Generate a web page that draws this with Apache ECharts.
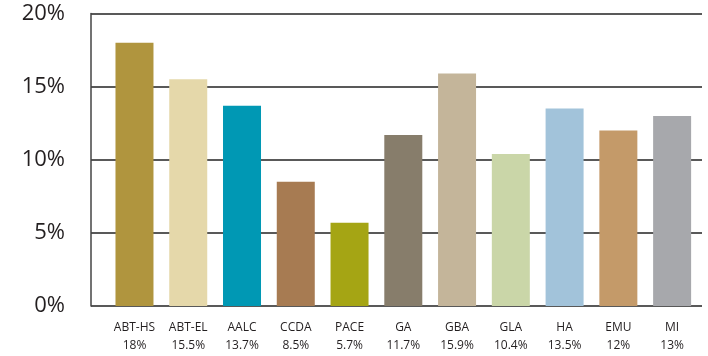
<!DOCTYPE html>
<html>
<head>
<meta charset="utf-8">
<script src="https://cdn.jsdelivr.net/npm/echarts@6/dist/echarts.min.js"></script>
<style>
  html, body { margin: 0; padding: 0; background: #fff; }
  #chart { width: 708px; height: 356px; }
</style>
</head>
<body>
<div id="chart"></div>
<script>
// Program names and their shares (percent)
const programs = ['ABT-HS', 'ABT-EL', 'AALC', 'CCDA', 'PACE', 'GA', 'GBA', 'GLA', 'HA', 'EMU', 'MI'];
const shares = [18, 15.5, 13.7, 8.5, 5.7, 11.7, 15.9, 10.4, 13.5, 12, 13];
const barColors = ['#B0953E', '#E5D8AA', '#0098B4', '#A77B52', '#A5A514', '#877D6B',
                   '#C4B59A', '#CAD6A8', '#A2C3DA', '#C49A69', '#A7A8AC'];
const yTicks = [0, 5, 10, 15, 20];

const font = '"Open Sans", "Noto Sans", sans-serif';
const chart = echarts.init(document.getElementById('chart'));

chart.setOption({
  animation: false,
  grid: [
    // frame grid: y axis, gridlines and baseline
    { left: 91, right: 6, top: 13.5, bottom: 50 },
    // bar grid, slightly inset from the y axis
    { left: 107.6, right: 9, top: 13.5, bottom: 50 }
  ],
  xAxis: [
    { gridIndex: 0, type: 'value', min: 0, max: 1, show: false },
    {
      gridIndex: 1,
      type: 'category',
      data: programs,
      axisLine: { show: false },
      axisTick: { show: false },
      axisLabel: {
        interval: 0,
        hideOverlap: false,
        margin: 13,
        color: '#231f20',
        fontFamily: font,
        fontSize: 12,
        lineHeight: 18,
        formatter: (name, i) => name + '\n' + shares[i] + '%'
      }
    }
  ],
  yAxis: [
    {
      gridIndex: 0,
      type: 'value',
      min: yTicks[0],
      max: yTicks[yTicks.length - 1],
      interval: 5,
      axisLine: { show: true, lineStyle: { color: '#444', width: 1.5 } },
      axisTick: { show: false },
      axisLabel: {
        margin: 26,
        color: '#231f20',
        fontFamily: font,
        fontSize: 22,
        formatter: v => v + '%'
      },
      splitLine: { show: true, lineStyle: { color: '#222', width: 1.5 } }
    },
    {
      gridIndex: 1,
      type: 'value',
      min: yTicks[0],
      max: yTicks[yTicks.length - 1],
      show: false,
      splitLine: { show: false }
    }
  ],
  series: [
    {
      type: 'bar',
      xAxisIndex: 1,
      yAxisIndex: 1,
      barWidth: 38,
      data: shares.map((v, i) => ({ value: v, itemStyle: { color: barColors[i] } }))
    }
  ]
});
</script>
</body>
</html>
